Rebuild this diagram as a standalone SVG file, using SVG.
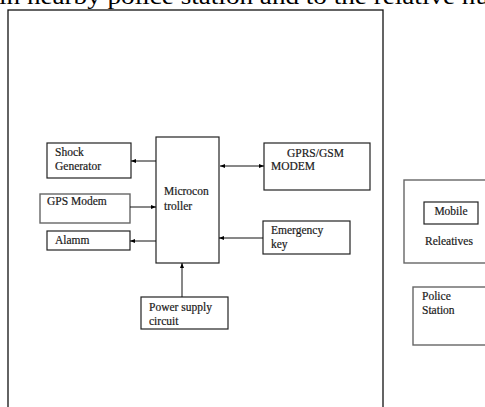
<svg xmlns="http://www.w3.org/2000/svg" width="485" height="407" viewBox="0 0 485 407">
<defs>
<marker id="ah" viewBox="0 0 10 10" refX="10" refY="5" markerWidth="5" markerHeight="5" orient="auto-start-reverse" markerUnits="userSpaceOnUse">
<path d="M0,1 L10,5 L0,9 z" fill="#000"/>
</marker>
<style>
.box{fill:#fff;stroke:#222;stroke-width:1.2}
.gbox{fill:#fff;stroke:#666;stroke-width:1.4}
.t{font-family:"Liberation Serif",serif;font-size:11.5px;fill:#1a1a1a;stroke:#1a1a1a;stroke-width:0.2}
.c{stroke:#111;stroke-width:1;fill:none}
</style>
</defs>
<rect width="485" height="407" fill="#fff"/>
<text x="-1" y="3.5" font-family="Liberation Serif, serif" font-size="24" fill="#000" textLength="490" lengthAdjust="spacingAndGlyphs">in nearby police station and to the relative nu</text>
<g id="outer"><rect x="8" y="10" width="375" height="420" fill="none" stroke="#111" stroke-width="1.3"/></g>
<g id="shock"><rect class="box" x="47" y="143" width="84" height="35"/><text class="t" x="55" y="156">Shock</text><text class="t" x="55" y="170">Generator</text></g>
<g id="gps"><rect class="gbox" x="40" y="194" width="90" height="29"/><text class="t" x="47" y="205">GPS Modem</text></g>
<g id="alarm"><rect class="box" x="47" y="231" width="83" height="19"/><text class="t" x="55" y="244">Alamm</text></g>
<g id="micro"><rect class="box" x="156" y="137" width="63" height="126"/><text class="t" x="164" y="195">Microcon</text><text class="t" x="164" y="210">troller</text></g>
<g id="gprs"><rect class="box" x="264" y="143" width="106" height="47"/><text class="t" x="287" y="157">GPRS/GSM</text><text class="t" x="271" y="170">MODEM</text></g>
<g id="emergency"><rect class="box" x="263" y="221" width="87" height="33"/><text class="t" x="271" y="234">Emergency</text><text class="t" x="271" y="248">key</text></g>
<g id="power"><rect class="box" x="141" y="297" width="87" height="32"/><text class="t" x="149" y="311">Power supply</text><text class="t" x="149" y="325">circuit</text></g>
<g id="relatives"><rect class="gbox" x="404" y="180" width="100" height="83"/><text class="t" x="425" y="245">Releatives</text></g>
<g id="mobile"><rect class="box" x="424" y="202" width="54" height="22"/><text class="t" x="451" y="215" text-anchor="middle">Mobile</text></g>
<g id="police"><rect class="gbox" x="413" y="287" width="90" height="58"/><text class="t" x="422" y="300">Police</text><text class="t" x="422" y="314">Station</text></g>
<g id="connectors">
<line class="c" x1="156" y1="161" x2="131" y2="161" marker-end="url(#ah)"/>
<line class="c" x1="130" y1="207" x2="156" y2="207" stroke="#777" stroke-width="1.4" marker-end="url(#ah)"/>
<line class="c" x1="156" y1="241" x2="130" y2="241" marker-end="url(#ah)"/>
<line class="c" x1="220" y1="166" x2="264" y2="166" marker-start="url(#ah)" marker-end="url(#ah)"/>
<line class="c" x1="263" y1="238" x2="219" y2="238" marker-end="url(#ah)"/>
<line class="c" x1="182" y1="297" x2="182" y2="263" marker-end="url(#ah)"/>
</g>
</svg>
